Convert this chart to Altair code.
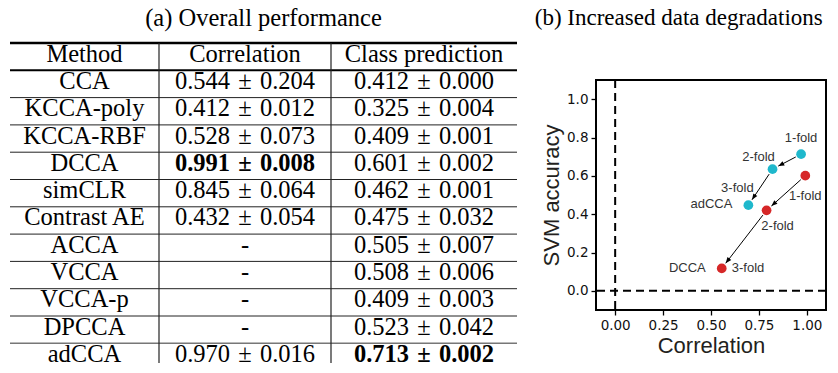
import math
import altair as alt
import pandas as pd

# ---------------- table data ----------------
headers = ["Method", "Correlation", "Class prediction"]
methods = ["CCA", "KCCA-poly", "KCCA-RBF", "DCCA", "simCLR", "Contrast AE",
           "ACCA", "VCCA", "VCCA-p", "DPCCA", "adCCA"]
corr_mean = [0.544, 0.412, 0.528, 0.991, 0.845, 0.432, None, None, None, None, 0.970]
corr_std = [0.204, 0.012, 0.073, 0.008, 0.064, 0.054, None, None, None, None, 0.016]
cls_mean = [0.412, 0.325, 0.409, 0.601, 0.462, 0.475, 0.505, 0.508, 0.409, 0.523, 0.713]
cls_std = [0.000, 0.004, 0.001, 0.002, 0.001, 0.032, 0.007, 0.006, 0.003, 0.042, 0.002]
best_corr = "DCCA"
best_cls = "adCCA"

# ---------------- scatter data ----------------
folds = ["1-fold", "2-fold", "3-fold"]
adcca_corr = [0.970, 0.821, 0.695]
adcca_svm = [0.713, 0.635, 0.447]
dcca_corr = [0.992, 0.790, 0.556]
dcca_svm = [0.601, 0.420, 0.117]
series_names = ["adCCA", "DCCA"]
series_colors = ["#1fb8cc", "#d62728"]


def fmt(m, s):
    if m is None:
        return "-"
    return f"{m:.3f}\u2004\u00b1\u2004{s:.3f}"


col_texts = [
    [headers[0]] + methods,
    [headers[1]] + [fmt(m, s) for m, s in zip(corr_mean, corr_std)],
    [headers[2]] + [fmt(m, s) for m, s in zip(cls_mean, cls_std)],
]
col_bold = [
    [False] * 12,
    [False] + [m == best_corr for m in methods],
    [False] + [m == best_cls for m in methods],
]
col_widths = [149, 172, 186]

# layout (pixels)
ROW_PX = 27.3
TABLE_TOP = -37          # table starts this far above the scatter's plot top
TABLE_VIEW_H = 283       # from the scatter plot top down to the bottom of the table
YMAX = (TABLE_VIEW_H - TABLE_TOP) / ROW_PX

line_rows = list(range(12))
line_widths = [2.6, 2.0] + [1.0] * 9 + [1.6]
line_colors = ["#000000", "#000000"] + ["#222222"] * 9 + ["#777777"]


def table_column(texts, bolds, width, divider):
    df = pd.DataFrame({"row": list(range(len(texts))), "text": texts, "bold": bolds})
    df["mid"] = df["row"] + 0.5
    df["xc"] = 0.5
    ysc = alt.Scale(domain=[0, YMAX], range=[TABLE_TOP, TABLE_VIEW_H], nice=False, zero=False)
    xsc = alt.Scale(domain=[0, 1], nice=False, zero=False)
    base = alt.Chart(df)
    layers = []
    for b in (False, True):
        layers.append(
            base.transform_filter(alt.datum.bold == b)
            .mark_text(font="Liberation Serif", fontSize=24.5, baseline="middle",
                       align="center", color="black", dy=-2,
                       fontWeight="bold" if b else "normal")
            .encode(x=alt.X("xc:Q", scale=xsc, axis=None),
                    y=alt.Y("mid:Q", scale=ysc, axis=None),
                    text="text:N")
        )
    ldf = pd.DataFrame({"row": line_rows, "w": line_widths, "c": line_colors})
    layers.append(
        alt.Chart(ldf).mark_rule().encode(
            y=alt.Y("row:Q", scale=ysc, axis=None),
            strokeWidth=alt.StrokeWidth("w:Q", scale=None, legend=None),
            color=alt.Color("c:N", scale=None, legend=None),
        )
    )
    if divider:
        layers.append(
            alt.Chart(pd.DataFrame({"xa": [0.0], "ya": [0.0], "yb": [YMAX]}))
            .mark_rule(color="#222222", strokeWidth=1.2)
            .encode(x=alt.X("xa:Q", scale=xsc, axis=None),
                    y=alt.Y("ya:Q", scale=ysc, axis=None), y2="yb:Q")
        )
    return alt.layer(*layers).properties(width=width, height=TABLE_VIEW_H)


cols = [table_column(col_texts[i], col_bold[i], col_widths[i], i > 0) for i in range(3)]
table = alt.hconcat(*cols, spacing=0, bounds="flush").properties(
    title=alt.TitleParams("(a) Overall performance", anchor="middle", offset=10.2,
                          font="Liberation Serif", fontSize=24.5, fontWeight="normal",
                          color="black")
)

# ---------------- scatter ----------------
W, H = 230, 230
XD = [-0.1, 1.1]
YD = [-0.1, 1.1]
kx = W / (XD[1] - XD[0])
ky = H / (YD[1] - YD[0])

rows = []
for name, color, xs, ys in [(series_names[0], series_colors[0], adcca_corr, adcca_svm),
                            (series_names[1], series_colors[1], dcca_corr, dcca_svm)]:
    for f, x, y in zip(folds, xs, ys):
        rows.append({"method": name, "fold": f, "corr": x, "svm": y, "color": color})
pts = pd.DataFrame(rows)

segs = []
for name, xs, ys in [(series_names[0], adcca_corr, adcca_svm),
                     (series_names[1], dcca_corr, dcca_svm)]:
    for i in range(len(xs) - 1):
        dxp = (xs[i + 1] - xs[i]) * kx
        dyp = (ys[i + 1] - ys[i]) * ky
        L = math.hypot(dxp, dyp)
        ux, uy = dxp / L, dyp / L
        s0, s1 = 6.0, 6.5
        segs.append({
            "x1": xs[i] + ux * s0 / kx, "y1": ys[i] + uy * s0 / ky,
            "x2": xs[i + 1] - ux * s1 / kx, "y2": ys[i + 1] - uy * s1 / ky,
            "angle": math.degrees(math.atan2(dxp, dyp)) % 360,
        })
segs = pd.DataFrame(segs)

xsc = alt.Scale(domain=XD, nice=False, zero=False)
ysc = alt.Scale(domain=YD, nice=False, zero=False)

xaxis = alt.Axis(values=[0, 0.25, 0.5, 0.75, 1.0], format=".2f", title="Correlation",
                 grid=False, domain=False, tickColor="black", tickWidth=1.3, tickSize=5,
                 labelFont="DejaVu Sans", labelFontSize=13.5, labelColor="#111111",
                 labelPadding=3, titleFont="Liberation Sans", titleFontSize=22,
                 titleFontWeight="normal", titleColor="#231f20", titlePadding=4)
yaxis = alt.Axis(values=[0, 0.2, 0.4, 0.6, 0.8, 1.0], format=".1f", title="SVM accuracy",
                 grid=False, domain=False, tickColor="black", tickWidth=1.3, tickSize=5,
                 labelFont="DejaVu Sans", labelFontSize=13.5, labelColor="#111111",
                 labelPadding=3, titleFont="Liberation Sans", titleFontSize=22,
                 titleFontWeight="normal", titleColor="#231f20", titlePadding=3)

zero = pd.DataFrame({"v": [0.0]})
vline = alt.Chart(zero).mark_rule(color="black", strokeWidth=2, strokeDash=[8, 5]).encode(
    x=alt.X("v:Q", scale=xsc, axis=xaxis))
hline = alt.Chart(zero).mark_rule(color="black", strokeWidth=2, strokeDash=[8, 5]).encode(
    y=alt.Y("v:Q", scale=ysc, axis=yaxis))

shafts = alt.Chart(segs).mark_rule(color="black", strokeWidth=1).encode(
    x=alt.X("x1:Q", scale=xsc), y=alt.Y("y1:Q", scale=ysc), x2="x2:Q", y2="y2:Q")
heads = alt.Chart(segs).mark_point(shape="M0,0L-0.4,1L0.4,1Z", filled=True, size=144,
                                   color="black", opacity=1, strokeWidth=0).encode(
    x=alt.X("x2:Q", scale=xsc), y=alt.Y("y2:Q", scale=ysc),
    angle=alt.Angle("angle:Q", scale=None))

dots = alt.Chart(pts).mark_circle(size=95, opacity=1).encode(
    x=alt.X("corr:Q", scale=xsc), y=alt.Y("svm:Q", scale=ysc),
    color=alt.Color("color:N", scale=None, legend=None))

# label placement: (method, fold, text, align, dx, dy)
label_specs = [
    ("adCCA", "1-fold", "1-fold", "center", 0, -16),
    ("adCCA", "2-fold", "2-fold", "center", -14, -12),
    ("adCCA", "3-fold", "3-fold", "center", -11, -17),
    ("adCCA", "3-fold", "adCCA", "right", -16, -1),
    ("DCCA", "1-fold", "1-fold", "center", 0, 20),
    ("DCCA", "2-fold", "2-fold", "center", 11, 16),
    ("DCCA", "3-fold", "3-fold", "left", 10, 0),
    ("DCCA", "3-fold", "DCCA", "right", -16, 0),
]
labels = []
for m, f, t, al, dx, dy in label_specs:
    d = pts[(pts.method == m) & (pts.fold == f)][["corr", "svm"]].copy()
    d["label"] = t
    labels.append(
        alt.Chart(d).mark_text(font="Liberation Sans", fontSize=13, color="#333333",
                               align=al, baseline="middle", dx=dx, dy=dy).encode(
            x=alt.X("corr:Q", scale=xsc), y=alt.Y("svm:Q", scale=ysc), text="label:N")
    )

scatter = alt.layer(vline, hline, shafts, heads, dots, *labels).properties(
    width=W, height=H,
    view=alt.ViewBackground(stroke="black", strokeWidth=2),
    title=alt.TitleParams("(b) Increased data degradations", anchor="middle", frame="bounds",
                          offset=49, dx=-5, font="Liberation Serif", fontSize=23,
                          fontWeight="normal", color="black"),
)

chart = alt.hconcat(table, scatter, spacing=14).properties(
    padding={"left": 0, "top": -3, "right": 0, "bottom": -3}
).configure_view(strokeWidth=0)

chart.save("out.html", embed_options={"renderer": "svg", "actions": False})
